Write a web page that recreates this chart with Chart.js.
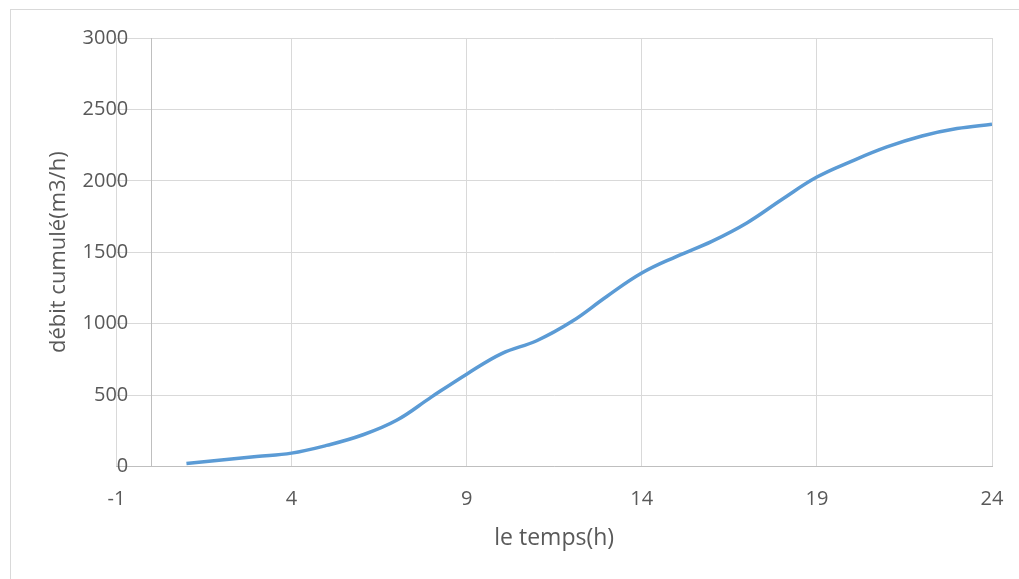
<!DOCTYPE html>
<html>
<head>
<meta charset="utf-8">
<script src="https://cdn.jsdelivr.net/npm/chart.js@4"></script>
<style>
 body{margin:0;background:#fff;}
 #frame{position:absolute;left:10px;top:9px;width:1100px;height:700px;border:1px solid #d9d9d9;}
 #wrap{position:absolute;left:0;top:0;width:1019px;height:579px;}
</style>
</head>
<body>
<div id="frame"></div>
<div id="wrap"><canvas id="chart_debit"></canvas></div>
<script>
// le temps (h)
var temps=[1,2,3,4,5,6,7,8,9,10,11,12,13,14,15,16,17,18,19,20,21,22,23,24];
// débit cumulé (m3/h)
var debit=[20,45,69,93,147,218,323,487,646,790,880,1014,1190,1354,1471,1576,1705,1869,2026,2138,2237,2314,2366,2396];
var x_ticks=[-1,4,9,14,19,24];
var y_ticks=[0,500,1000,1500,2000,2500,3000];

var points=[];
for(var i=0;i<temps.length;i++){
 points.push({x:temps[i],y:debit[i]});
}

function setYTicks(axis){axis.ticks=y_ticks.map(function(v){return {value:v};});}

var grey="#595959";
var chartid=document.getElementById("chart_debit");
var chart_obj=new Chart(chartid,{
  type:'line',
  data:{
   datasets:[{
     label:"débit cumulé",
     data:points,
     borderColor:"#5B9BD5",
     borderWidth:3.5,
     pointRadius:0,
     tension:0.4,
     fill:false
   }]
  },
  options:{
   responsive:true,
   maintainAspectRatio:false,
   animation:false,
   layout:{padding:{left:46,right:27,top:38,bottom:27}},
   plugins:{legend:{display:false},tooltip:{enabled:false}},
   font:{family:"'Open Sans'"},
   scales:{
    x:{
     type:'linear',
     min:-1,max:24,
     afterBuildTicks:function(axis){axis.ticks=x_ticks.map(function(v){return {value:v};});},
     grid:{color:"#d9d9d9",drawTicks:true,tickLength:21,tickColor:"rgba(0,0,0,0)"},
     border:{color:"#bfbfbf"},
     ticks:{color:grey,font:{size:20,family:"'Open Sans'"},padding:0,maxRotation:0},
     title:{display:true,text:"le temps(h)",color:grey,font:{size:23,family:"'Open Sans'"},padding:{top:13,bottom:0}}
    },
    // vertical axis crossing at x = 0 (line + gridlines)
    y:{
     position:{x:0},
     min:0,max:3000,
     afterBuildTicks:setYTicks,
     grid:{color:"#d9d9d9",drawTicks:false},
     border:{color:"#bfbfbf"},
     ticks:{display:false}
    },
    // tick labels, set a little left of the axis line
    yl:{
     axis:'y',
     position:{x:-0.66},
     min:0,max:3000,
     afterBuildTicks:setYTicks,
     grid:{display:false,drawTicks:false},
     border:{display:false},
     ticks:{color:grey,font:{size:20,family:"'Open Sans'"},padding:0,
       callback:function(v){return String(v);}}
    },
    yt:{
     axis:'y',
     position:'left',
     display:true,
     grid:{display:false,drawTicks:false},
     border:{display:false},
     ticks:{display:false},
     title:{display:true,text:"débit cumulé(m3/h)",color:grey,font:{size:22,family:"'Open Sans'"},padding:{top:0,bottom:44}}
    }
   }
  }
});
</script>
</body>
</html>
